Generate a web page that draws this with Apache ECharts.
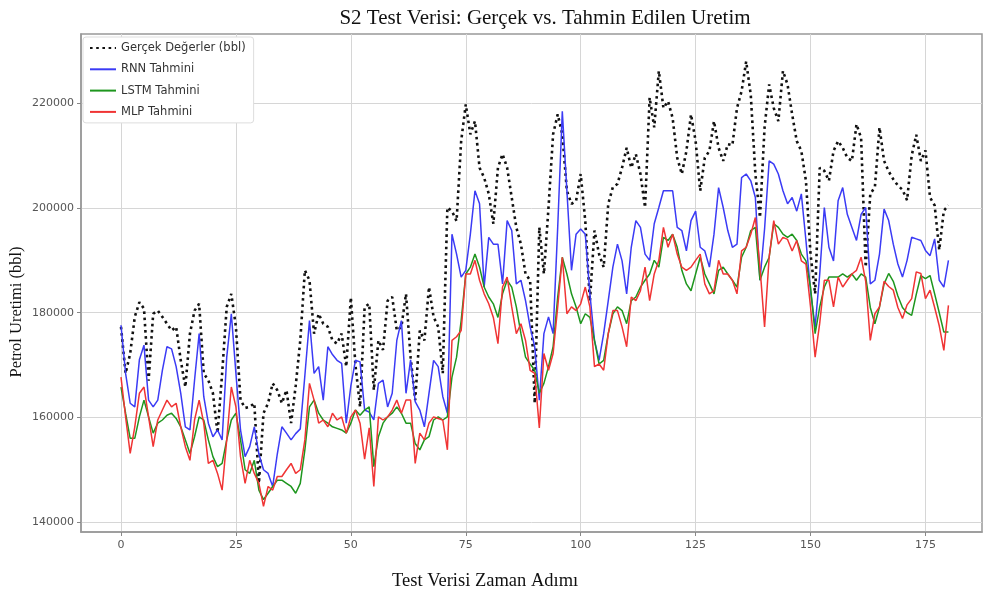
<!DOCTYPE html>
<html>
<head>
<meta charset="utf-8">
<script src="https://cdn.jsdelivr.net/npm/echarts@6/dist/echarts.min.js"></script>
<style>
html,body{margin:0;padding:0;background:#fff;}
#c{width:984px;height:596px;}
</style>
</head>
<body>
<div id="c"></div>
<script>
// ---- data ----
const actual = [177300,168400,172200,179200,182000,180800,167000,179800,180400,179200,
177900,176600,177300,170900,165800,176000,180400,181700,168400,167100,
164600,157000,168400,181100,183600,177300,163300,161800,162000,162700,
147400,160800,162700,166500,165200,162700,165200,158900,166000,174700,
188100,186200,176000,179800,177900,177300,174700,174100,176000,169700,
182900,170000,162000,181100,181700,165200,174700,172900,182300,183000,
176600,177300,183600,171500,163300,176600,174700,184900,179200,177300,
168400,200100,199400,197500,212800,219800,214100,216600,207700,205800,
202700,197000,207700,210300,207700,202000,196300,193100,187400,186200,
162700,196300,187400,200100,214100,217900,214100,203300,200800,201400,
206500,197500,182200,195700,191200,188700,200800,204000,204600,207700,
211500,207700,210300,206500,200100,221100,215400,226200,219100,220400,
217200,209600,206500,210900,217900,212800,203300,209600,210900,216600,
211500,209000,212200,212000,219100,222300,228000,221600,206500,198200,
215400,223600,219100,216600,226200,223600,217900,212800,210900,205200,
191200,183600,207700,207100,205200,210900,212800,211500,209600,209000,
216000,213400,188700,202700,204000,215400,209000,207000,205500,204300,
203500,201500,210000,214000,209000,211000,202000,200500,192000,199500,
200500];
const rnn = [177600,168400,162700,162000,171000,173800,163300,162000,163300,169000,
173500,173100,169700,164600,158200,157600,167100,176000,164000,158900,
156300,157600,155700,171500,179800,168400,157600,152500,154400,158200,
153000,150000,149300,146800,153000,158200,157000,155700,156900,157800,
168000,178500,168400,169700,163300,173500,172000,170900,170300,158900,
166000,170900,170600,161400,161000,159500,166500,167100,162000,164600,
174700,178500,164600,171000,163000,161400,158200,164600,170900,169700,
164000,160800,195000,191200,186800,188100,195000,203300,200800,184900,
194400,193100,193100,185500,197600,195700,185500,186200,182300,177300,
173500,163300,176000,179200,176000,196300,218500,203300,188100,195000,
196000,195000,183600,174700,170900,176000,182300,188700,193100,189900,
183600,192500,197600,196300,191200,190000,197000,200100,203300,203300,
203300,196300,195700,191800,197600,199400,192500,191800,188700,195000,
203900,200100,195700,192500,193100,205800,206500,205200,202000,186200,
196000,209000,208400,206500,203300,200800,202000,199400,202700,193800,
184200,177300,187400,200100,192500,189900,201400,203900,198800,196300,
193800,198800,200100,185500,186200,191200,199800,197600,193100,189300,
186800,190000,194400,194100,193800,191900,190900,194100,186200,184900,
190000];
const lstm = [165800,160800,156000,156000,160100,163300,160100,157000,158900,159500,
160400,160800,159800,158200,155700,153100,156300,160100,159500,155700,
152500,150600,151200,155700,159500,160800,155700,150000,149300,151800,
146100,144300,145500,146800,148000,148000,147400,146800,145500,147400,
153800,162000,163300,160800,159500,158900,158200,157900,157600,157000,
158900,161400,160400,161400,162000,150600,156300,158900,160100,160800,
162000,160800,158900,158900,155000,153800,155700,156300,159500,160100,
159500,160100,167700,171500,178500,187400,188700,191200,188700,184900,
183000,181700,179100,183600,186200,184900,181100,176000,171500,170200,
169000,164600,166500,169700,173500,183000,190600,187400,183600,181100,
177900,179800,179100,174700,170200,170900,176000,179800,181100,180400,
177900,182300,183000,184900,186200,187400,190000,188700,194400,193800,
195000,192500,188100,185500,184200,187400,190600,187400,185500,183600,
188100,188700,187400,186200,184900,190600,192500,195700,196300,186200,
188700,190600,197000,196300,195000,194400,195000,193800,191200,189900,
184900,176000,181100,184900,186800,186800,186800,187400,186800,187400,
186200,187400,186800,181000,177900,181100,185500,187500,186000,183200,
181000,180000,179500,183500,187100,186500,187100,183600,180000,176300,
176300];
const mlp = [167700,160100,153100,158200,164600,165800,160100,154400,159500,161400,
163300,162000,162700,158200,154400,151800,159500,163300,158900,151200,
151800,149300,146100,155700,165800,162000,152500,147400,151800,149300,
147400,143000,146800,146100,148700,148700,150000,151200,149300,150000,
155700,166500,163300,158900,159500,158200,160800,159500,160100,157000,
160100,161400,158900,152000,158000,146800,160100,159500,160100,161400,
163300,160800,163300,163300,151200,157000,155700,158900,160100,159800,
159500,153800,174700,175400,176600,187400,187400,190000,186200,183600,
181700,179100,174100,184900,186800,181100,176000,177900,174700,169000,
168400,158000,172200,169000,172200,181100,190600,179800,181100,180400,
181700,184900,181100,169700,170200,169000,176000,180400,180400,177300,
173500,183000,182300,184200,188700,182300,187400,190000,196300,192500,
195000,191200,188700,188100,188700,190000,191200,185500,183600,184200,
190000,187400,187400,186200,183600,191800,192500,195000,198200,188700,
177300,190600,197600,193100,194400,194000,191800,193800,189900,189300,
181100,171500,178000,186200,186200,181100,186800,184900,186200,187400,
188100,190600,186000,174700,179800,181100,186000,185000,184300,181000,
178900,181500,182700,187800,187500,182700,184300,181000,177500,172800,
181400];
const xTicks = [0, 25, 50, 75, 100, 125, 150, 175];
const yTicks = [140000, 160000, 180000, 200000, 220000];
const seriesNames = ['Gerçek Değerler (bbl)', 'RNN Tahmini', 'LSTM Tahmini', 'MLP Tahmini'];

const pairs = arr => arr.map((v, i) => [i, v]);

const chart = echarts.init(document.getElementById('c'), null, {renderer: 'canvas'});
const tickColor = '#555';
const option = {
  animation: false,
  backgroundColor: '#fff',
  title: {
    text: 'S2 Test Verisi: Gerçek vs. Tahmin Edilen Uretim',
    left: 540, top: 3, textAlign: 'center',
    textStyle: {fontFamily: 'Liberation Serif', fontSize: 21, fontWeight: 'normal', color: '#111'}
  },
  grid: {left: 81, right: 2, top: 34, bottom: 64, show: true, borderColor: '#999', borderWidth: 1.5,
         containLabel: false, outerBoundsMode: 'none'},
  legend: {
    left: 83, top: 37, orient: 'vertical', itemGap: 9.3, itemWidth: 26, itemHeight: 11,
    backgroundColor: '#fff', borderColor: '#ddd', borderWidth: 1, borderRadius: 3,
    padding: [5, 8, 5, 6],
    itemStyle: {color: 'rgba(0,0,0,0)', borderWidth: 0, opacity: 0},
    textStyle: {fontFamily: 'DejaVu Sans', fontSize: 11.5, color: '#333'},
    data: seriesNames
  },
  graphic: [
    {type: 'text', left: 392, top: 572, style: {text: 'Test Verisi Zaman Adımı', font: '18.5px "Liberation Serif"', fill: '#111'}},
    {type: 'text', x: 8, y: 312, rotation: Math.PI / 2,
     style: {text: 'Petrol Uretimi (bbl)', font: '16.5px "Liberation Serif"', fill: '#111', align: 'center', verticalAlign: 'top'}}
  ],
  xAxis: {
    type: 'value', min: -8.7, max: 187.3,
    axisLine: {show: true, onZero: false, lineStyle: {color: '#999', width: 1.5}},
    axisTick: {show: true, length: 4, lineStyle: {color: '#888'}, customValues: xTicks},
    axisLabel: {customValues: xTicks, color: tickColor, fontFamily: 'DejaVu Sans', fontSize: 11, margin: 8},
    splitLine: {show: true, lineStyle: {color: '#d6d6d6', width: 1}}
  },
  yAxis: {
    type: 'value', min: 138100, max: 233250,
    axisLine: {show: true, onZero: false, lineStyle: {color: '#999', width: 1.5}},
    axisTick: {show: true, length: 4, lineStyle: {color: '#888'}, customValues: yTicks},
    axisLabel: {customValues: yTicks, formatter: v => String(v), color: tickColor, fontFamily: 'DejaVu Sans', fontSize: 11, margin: 7},
    splitLine: {show: true, lineStyle: {color: '#d6d6d6', width: 1}}
  },
  series: [
    {name: seriesNames[0], type: 'line', data: pairs(actual), showSymbol: false, symbol: 'none',
     lineStyle: {color: '#111', width: 2.6, type: [2.6, 3.6], cap: 'butt'}, itemStyle: {color: '#111'}, z: 2},
    {name: seriesNames[1], type: 'line', data: pairs(rnn), showSymbol: false, symbol: 'none',
     lineStyle: {color: '#3b3bf5', width: 1.5}, itemStyle: {color: '#3b3bf5'}, z: 3},
    {name: seriesNames[2], type: 'line', data: pairs(lstm), showSymbol: false, symbol: 'none',
     lineStyle: {color: '#1e961e', width: 1.5}, itemStyle: {color: '#1e961e'}, z: 4},
    {name: seriesNames[3], type: 'line', data: pairs(mlp), showSymbol: false, symbol: 'none',
     lineStyle: {color: '#f03434', width: 1.5}, itemStyle: {color: '#f03434'}, z: 5}
  ]
};
chart.setOption(option);
</script>
</body>
</html>
